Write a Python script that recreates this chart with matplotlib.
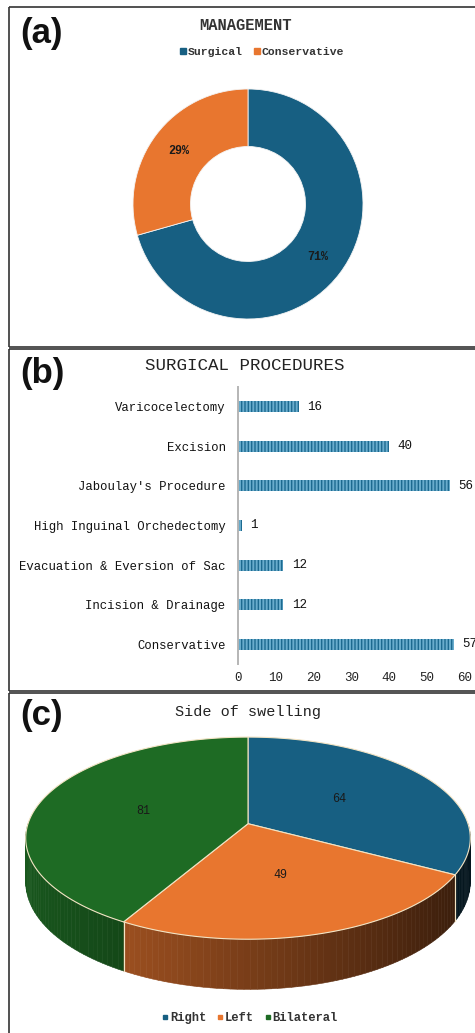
import numpy as np
import matplotlib.pyplot as plt
from matplotlib.patches import Polygon
from matplotlib.lines import Line2D

plt.rcParams['font.family'] = ['Liberation Mono', 'DejaVu Sans Mono']
plt.rcParams['hatch.linewidth'] = 1.0

# -- data --
mgmt_labels = ["Surgical", "Conservative"]
mgmt_values = [137, 57]

proc_labels = ["Varicocelectomy", "Excision", "Jaboulay's Procedure",
               "High Inguinal Orchedectomy", "Evacuation & Eversion of Sac",
               "Incision & Drainage", "Conservative"]
proc_values = [16, 40, 56, 1, 12, 12, 57]
proc_ticks = [0, 10, 20, 30, 40, 50, 60]

side_labels = ["Right", "Left", "Bilateral"]
side_values = [64, 49, 81]

BLUE = "#175f82"
ORANGE = "#e8762f"
GREEN = "#1e6b24"
side_colors = [BLUE, ORANGE, GREEN]

W, H = 475, 1033
fig = plt.figure(figsize=(W / 100, H / 100), dpi=100)


def box(x0, y0, x1, y1):
    # pixel box (top-left origin) -> figure fraction rect
    return [x0 / W, 1 - y1 / H, (x1 - x0) / W, (y1 - y0) / H]


# background axes in pixel coords: panel frames + 3D pie
bg = fig.add_axes([0, 0, 1, 1])
bg.set_xlim(0, W)
bg.set_ylim(H, 0)
bg.axis("off")

frame_kw = dict(color="#333333", lw=1.2, solid_capstyle="butt")
for top, bottom in [(7, 347), (349, 691), (693, H + 5)]:
    bg.plot([9, W], [top, top], **frame_kw)
    bg.plot([9, 9], [top, bottom], **frame_kw)
    bg.plot([9, W], [bottom, bottom], **frame_kw)

for lab, y in [("(a)", 34), ("(b)", 373), ("(c)", 716)]:
    bg.text(20, y, lab, fontsize=25, fontweight="bold", family="Liberation Sans",
            ha="left", va="center", color="#111111")

# -- (a) donut --
ax_a = fig.add_axes(box(248 - 120, 204 - 120, 248 + 120, 204 + 120))
wedges, _, autotexts = ax_a.pie(
    mgmt_values, colors=[BLUE, ORANGE], startangle=90, counterclock=False,
    radius=1.0, wedgeprops=dict(width=0.5, edgecolor="#f4f4f4", linewidth=0.6),
    autopct="%1.0f%%", pctdistance=0.76,
    textprops=dict(fontsize=8.5, fontweight="bold", color="#1a1a1a"))
ax_a.set_xlim(-120 / 115, 120 / 115)
ax_a.set_ylim(-120 / 115, 120 / 115)
ax_a.set_aspect("equal")

bg.text(246, 25, "MANAGEMENT", fontsize=11.2, fontweight="bold",
        ha="center", va="center", color="#333333")
handles_a = [Line2D([], [], marker="s", ls="", color=c, markersize=4.5)
             for c in [BLUE, ORANGE]]
fig.legend(handles_a, mgmt_labels, loc="center", bbox_to_anchor=(262 / W, 1 - 52 / H),
           ncol=2, frameon=False, handlelength=0.6, handletextpad=0.1,
           columnspacing=1.0, prop=dict(size=8.2, weight="bold"),
           labelcolor="#333333")

# -- (b) bar chart --
ax_b = fig.add_axes(box(238, 387, 465, 664))
ypos = np.arange(len(proc_labels))
bars = ax_b.barh(ypos, proc_values, height=0.28, color="#6aadcd",
                 hatch="|||||", edgecolor="#1d6a90", linewidth=0)
ax_b.set_ylim(len(proc_labels) - 0.5, -0.5)
ax_b.set_xlim(proc_ticks[0], proc_ticks[-1])
ax_b.set_yticks(ypos)
ax_b.set_yticklabels(proc_labels, fontsize=8.8, color="#111111")
ax_b.set_xticks(proc_ticks)
ax_b.set_xticklabels([str(t) for t in proc_ticks], fontsize=9, color="#222222")
ax_b.tick_params(axis="y", length=0, pad=9)
ax_b.tick_params(axis="x", length=0, pad=6)
for s in ["top", "right", "bottom"]:
    ax_b.spines[s].set_visible(False)
ax_b.spines["left"].set_color("#b5b5b5")
ax_b.spines["left"].set_linewidth(1.4)
ax_b.patch.set_alpha(0)
ax_b.bar_label(bars, labels=[str(v) for v in proc_values], padding=6,
               fontsize=9, color="#111111")
bg.text(245, 365, "SURGICAL PROCEDURES", fontsize=12.6, ha="center",
        va="center", color="#222222")

# -- (c) 3D pie --
cx, cy, ra, rb, persp, depth = 248, 823.7, 220, 99, 0.143, 43


def proj(theta, r=1.0, dz=0.0):
    t = np.radians(theta)
    s = 1 / (1 + persp * r * np.sin(t))
    return cx + ra * r * np.cos(t) * s, cy - rb * r * np.sin(t) * s + dz * s


def shade(color, theta, base, slope):
    f = base - slope * np.cos(np.radians(theta))
    rgb = np.array(plt.matplotlib.colors.to_rgb(color))
    return tuple(np.clip(rgb * f, 0, 1))


total = sum(side_values)
bounds = 90 - 360 * np.concatenate([[0], np.cumsum(side_values)]) / total
EDGE = "#f3e4c4"

# side walls (front half only)
for i, col in enumerate(side_colors):
    t0, t1 = bounds[i], bounds[i + 1]  # t0 > t1
    lo, hi = max(t1, -180), min(t0, 0)
    if hi <= lo:
        continue
    steps = np.linspace(hi, lo, max(2, int((hi - lo) / 1.5) + 1))
    for ta, tb in zip(steps[:-1], steps[1:]):
        pts = [proj(ta), proj(tb), proj(tb, dz=depth), proj(ta, dz=depth)]
        c = shade(col, (ta + tb) / 2, 0.52, 0.3)
        bg.add_patch(Polygon(pts, closed=True, facecolor=c, edgecolor=c,
                             lw=0.4, zorder=2))
    for tb in (t0, t1):
        if -180 < tb < 0:
            p, q = proj(tb), proj(tb, dz=depth)
            bg.plot([p[0], q[0]], [p[1], q[1]], color=EDGE, lw=0.8, zorder=3)

# top faces
for i, col in enumerate(side_colors):
    t0, t1 = bounds[i], bounds[i + 1]
    arc = np.linspace(t0, t1, 120)
    pts = [proj(0, r=0)] + [proj(t) for t in arc]
    bg.add_patch(Polygon(pts, closed=True, facecolor=col, edgecolor=EDGE,
                         lw=0.8, zorder=4))
    mid = (t0 + t1) / 2
    lx, ly = proj(mid, r=0.5)
    bg.text(lx, ly, str(side_values[i]), fontsize=8.5, ha="center",
            va="center", color="#1a1a1a", zorder=5)

bg.text(248, 712, "Side of swelling", fontsize=10.9, ha="center",
        va="center", color="#222222")
handles_c = [Line2D([], [], marker="s", ls="", color=c, markersize=3.5)
             for c in side_colors]
fig.legend(handles_c, side_labels, loc="center", bbox_to_anchor=(250 / W, 1 - 1018 / H),
           ncol=3, frameon=False, handlelength=0.5, handletextpad=0.15,
           columnspacing=0.9, prop=dict(size=8.7, weight="bold"),
           labelcolor="#333333")

fig.savefig("out.png", dpi=100)
